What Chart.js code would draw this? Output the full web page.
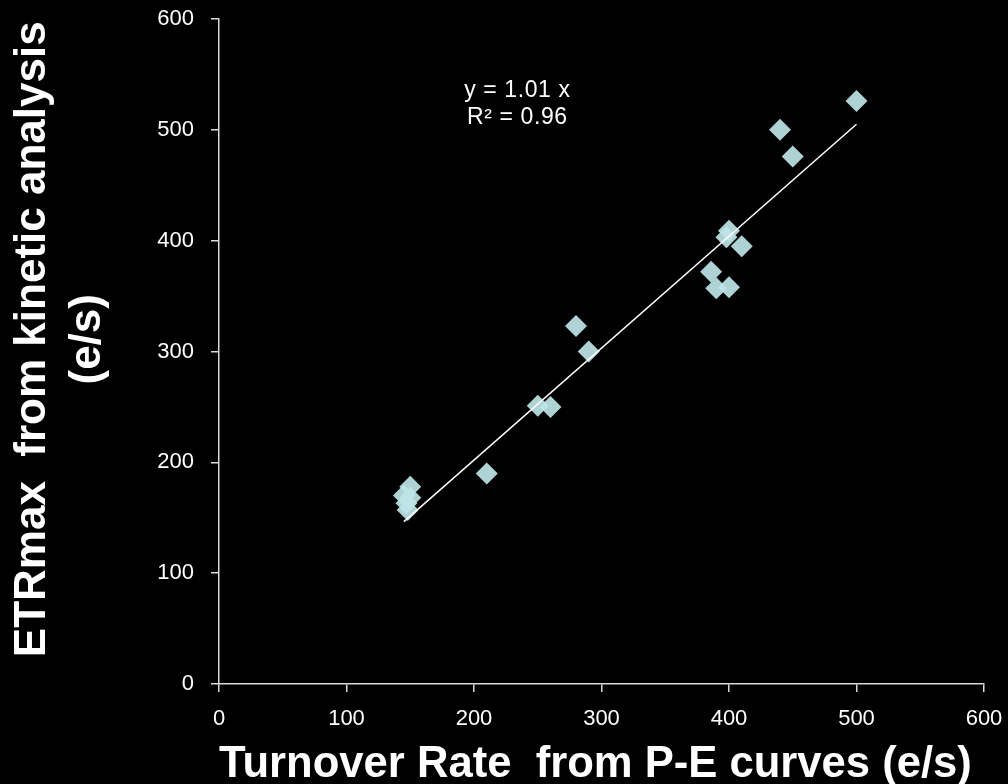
<!DOCTYPE html>
<html>
<head>
<meta charset="utf-8">
<script src="https://cdn.jsdelivr.net/npm/chart.js@4/dist/chart.umd.min.js"></script>
<style>
  html, body { margin: 0; padding: 0; background: #000; }
  #wrap { width: 1008px; height: 784px; }
</style>
</head>
<body>
<div id="wrap"><canvas id="scatterChart"></canvas></div>
<script>
// Valores
const turnoverRate = [150, 145, 150, 147, 148, 210, 250, 260, 280, 290, 386, 390, 400, 398, 400, 410, 440, 450, 500];
const etrMax       = [178, 170, 168, 163, 157, 190, 251, 250, 323, 300, 372, 357, 358, 403, 409, 395, 500, 476, 526];
const fitX = [145, 500];
const slope = 1.01;
const fitLabel = ["y = 1.01 x", "R² = 0.96"];
const xTicks = [0, 100, 200, 300, 400, 500, 600];
const yTicks = [0, 100, 200, 300, 400, 500, 600];

const axisColor = "#d9d9d9";
const font = "'Liberation Sans', Arial, sans-serif";

// Texto da equação dentro do gráfico
const equationText = {
  id: "equationText",
  afterDatasetsDraw(chart) {
    const { ctx, scales } = chart;
    ctx.save();
    ctx.fillStyle = "#fff";
    ctx.font = "23px " + font;
    ctx.letterSpacing = "0.6px";
    ctx.textAlign = "center";
    ctx.textBaseline = "middle";
    ctx.fillText(fitLabel[0], scales.x.getPixelForValue(234), scales.y.getPixelForValue(535));
    ctx.fillText(fitLabel[1], scales.x.getPixelForValue(234), scales.y.getPixelForValue(511));
    ctx.restore();
  }
};

const points = turnoverRate.map((x, i) => ({ x, y: etrMax[i] }));
const fitLine = fitX.map(x => ({ x, y: slope * x }));

new Chart(document.getElementById("scatterChart"), {
  type: "scatter",
  data: {
    datasets: [
      {
        label: "fit",
        data: fitLine,
        showLine: true,
        borderColor: "#fff",
        borderWidth: 1.5,
        pointRadius: 0
      },
      {
        label: "ETRmax",
        data: points,
        pointStyle: "rectRot",
        pointRadius: 11,
        backgroundColor: "rgba(190, 228, 231, 0.92)",
        borderWidth: 0
      }
    ]
  },
  options: {
    responsive: true,
    maintainAspectRatio: false,
    animation: false,
    layout: { padding: { top: 19, right: 24, left: 0, bottom: 0 } },
    plugins: {
      legend: { display: false },
      tooltip: { enabled: false }
    },
    scales: {
      x: {
        type: "linear",
        min: 0,
        max: 600,
        afterBuildTicks: s => { s.ticks = xTicks.map(v => ({ value: v })); },
        afterFit: s => { s.height = 100; s.paddingLeft = 0; s.paddingRight = 0; },
        border: { color: axisColor, width: 1.5 },
        grid: { drawOnChartArea: false, color: axisColor, tickLength: 8, lineWidth: 1.5 },
        ticks: { color: "#fff", font: { family: font, size: 22 }, padding: 14, maxRotation: 0 },
        title: {
          display: true,
          text: "Turnover Rate  from P-E curves (e/s) ",
          color: "#fff",
          font: { family: font, size: 44, weight: "bold", lineHeight: 1.0 },
          padding: { top: 0, bottom: -3 }
        }
      },
      y: {
        type: "linear",
        min: 0,
        max: 600,
        afterBuildTicks: s => { s.ticks = yTicks.map(v => ({ value: v })); },
        afterFit: s => { s.width = 219; s.paddingTop = 0; s.paddingBottom = 0; },
        border: { color: axisColor, width: 1.5 },
        grid: { drawOnChartArea: false, color: axisColor, tickLength: 8, lineWidth: 1.5 },
        ticks: { color: "#fff", font: { family: font, size: 22 }, padding: 17 },
        title: {
          display: true,
          text: ["  ETRmax  from kinetic analysis", "  (e/s)"],
          color: "#fff",
          font: { family: font, size: 44, weight: "bold", lineHeight: 1.25 },
          padding: { top: 5, bottom: 0 }
        }
      }
    }
  },
  plugins: [equationText]
});
</script>
</body>
</html>
